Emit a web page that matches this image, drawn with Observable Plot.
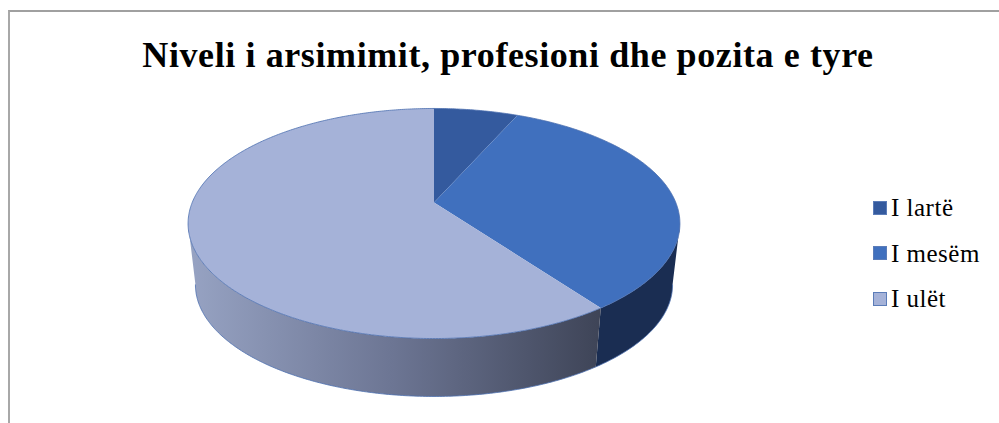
<!DOCTYPE html>
<html lang="sq">
<head>
<meta charset="utf-8">
<script src="https://cdn.jsdelivr.net/npm/d3@7"></script>
<script src="https://cdn.jsdelivr.net/npm/@observablehq/plot@0.6"></script>
<style>
  html, body { margin: 0; background: #fff; }
  #chart { position: relative; width: 999px; height: 423px; overflow: hidden; font-family: "Liberation Serif", serif; color: #000; }
  #frame { position: absolute; left: 8px; top: 10px; right: -4px; bottom: -4px; border-left: 2px solid #a8a8a8; border-top: 2px solid #a0a0a0; }
  #title { position: absolute; left: 8px; width: 1000px; top: 32px; text-align: center; font-size: 36px; letter-spacing: 0.6px; font-weight: bold; line-height: 46px; white-space: nowrap; }
  #legend { position: absolute; left: 873px; top: 185px; font-size: 25px; letter-spacing: 0.5px; }
  #legend div { height: 45.5px; line-height: 45px; white-space: nowrap; display: flex; align-items: center; }
  #legend i { display: inline-block; box-sizing: border-box; width: 14px; height: 14px; margin-right: 4px; border: 1px solid #5b7cb8; }
  svg { position: absolute; left: 0; top: 0; }
</style>
</head>
<body>
<div id="chart">
  <div id="frame"></div>
  <div id="title"></div>
  <div id="legend"></div>
</div>
<script>
const titleText = "Niveli i arsimimit, profesioni dhe pozita e tyre";
const categories = ["I lartë", "I mesëm", "I ulët"];
const shares = [6.6, 33.4, 60];
const topColors = ["#345a9e", "#4070be", "#a5b2d8"];
const sideColors = ["#1f3460", "#1a2d52", "url(#sideShade)"];

// Tilted disc: the near edge is drawn larger than the far edge.
const tilt = 0.1826;
const baseScale = 0.97;
const baseDrop = 0.5576;
const frontStart = Math.PI / 180 * 100.5;
const frontEnd = Math.PI / 180 * 259.5;

function project(angle, scale = 1, drop = 0) {
  const u = Math.sin(angle), v = Math.cos(angle), d = 1 + tilt * v;
  return { x: scale * u / d, y: scale * v / d - drop };
}
function arc(a0, a1) {
  const n = Math.max(2, Math.ceil(Math.abs(a1 - a0) / 0.01));
  return d3.range(n + 1).map(i => a0 + (a1 - a0) * i / n);
}

const slices = d3.pie().sort(null)(shares);

const topFaces = slices.map(s => [
  { x: 0, y: 0 },
  ...arc(s.startAngle, s.endAngle).map(a => project(a))
]);

const sideFaces = slices.map(s => {
  const a0 = Math.max(s.startAngle, frontStart), a1 = Math.min(s.endAngle, frontEnd);
  if (a1 <= a0) return [];
  const range = arc(a0, a1);
  return [
    ...range.map(a => project(a)),
    ...range.slice().reverse().map(a => project(a, baseScale, baseDrop))
  ];
});

const rimTop = arc(0, 2 * Math.PI).map(a => project(a));
const rimBase = arc(frontStart, frontEnd).map(a => project(a, baseScale, baseDrop));

const shadeDefs = () => {
  const defs = d3.create("svg:defs");
  const g = defs.append("linearGradient").attr("id", "sideShade");
  [["0%", "#97a3c3"], ["50%", "#6c7593"], ["100%", "#3e4457"]].forEach(([o, c]) =>
    g.append("stop").attr("offset", o).attr("stop-color", c));
  return defs.node();
};

const face = (pts, fill) => Plot.line(pts, { x: "x", y: "y", fill, stroke: "none", curve: "linear" });
const edge = (pts) => Plot.line(pts, { x: "x", y: "y", stroke: "#4d70b0", strokeWidth: 0.8, curve: "linear" });

const plot = Plot.plot({
  width: 999,
  height: 423,
  margin: 0,
  x: { domain: [-1, 1], range: [191.7, 675.3], axis: null },
  y: { domain: [-1, 1], range: [313.2, 90.8], axis: null },
  style: { background: "transparent" },
  marks: [
    shadeDefs,
    ...sideFaces.map((pts, i) => face(pts, sideColors[i])),
    ...topFaces.map((pts, i) => face(pts, topColors[i])),
    edge(rimBase),
    edge(rimTop)
  ]
});
document.getElementById("chart").appendChild(plot);

document.getElementById("title").textContent = titleText;
const legend = document.getElementById("legend");
categories.forEach((name, i) => {
  const row = document.createElement("div");
  const key = document.createElement("i");
  key.style.background = topColors[i];
  row.append(key, name);
  legend.appendChild(row);
});
document.getElementById("chart").appendChild(legend);
document.getElementById("chart").appendChild(document.getElementById("title"));
</script>
</body>
</html>
